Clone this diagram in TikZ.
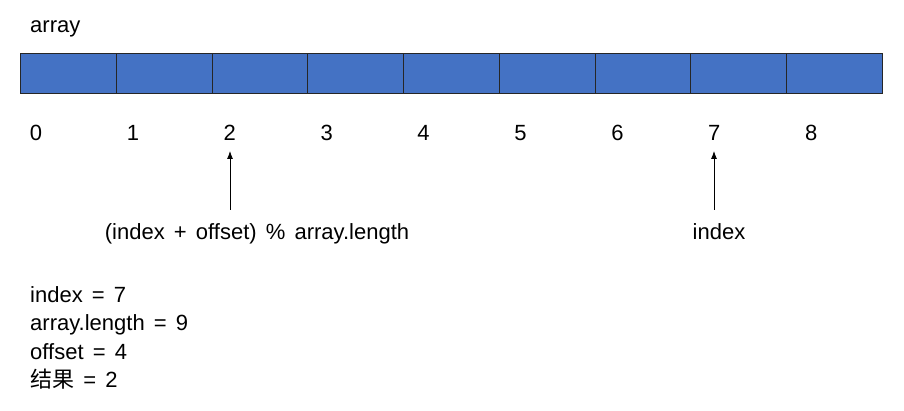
\documentclass[tikz,border=0pt]{standalone}
\usepackage{fontspec}
\usetikzlibrary{arrows.meta}
\setmainfont[WordSpace=1.5]{Liberation Sans}
\newfontfamily\cjkfont{Noto Sans CJK SC}
\begin{document}
\begin{tikzpicture}[x=1pt,y=-1pt,
  cell/.style={draw=black!85, fill={rgb,255:red,68;green,114;blue,196}, line width=0.9pt, minimum width=95.8pt, minimum height=40pt, inner sep=0pt, anchor=north west},
  lbl/.style={font=\fontsize{22}{28}\selectfont, inner sep=0pt, anchor=base},
  arr/.style={-{Latex[length=8pt,width=6pt]}, line width=0.8pt}]
\useasboundingbox (0,0) rectangle (904,411);
\node[lbl, anchor=base west] (title) at (30,33) {array};
\foreach \i in {0,...,8} {
  \node[cell] (c\i) at ({20+95.78*\i},53) {};
  \node[lbl] (n\i) at ({36+96.9*\i},141) {\i};
}
\node[lbl] (expr) at (257,240) {(index + offset) \% array.length};
\node[lbl] (idx) at (719,240) {index};
\coordinate (a2s) at (230,210);
\coordinate (a2e) at (230,151);
\coordinate (a7s) at (714,210);
\coordinate (a7e) at (714,151);
\draw[arr] (a2s) -- (a2e);
\draw[arr] (a7s) -- (a7e);
\node[lbl, anchor=base west] (l1) at (30,302) {index = 7};
\node[lbl, anchor=base west] (l2) at (30,330.5) {array.length = 9};
\node[lbl, anchor=base west] (l3) at (30,359) {offset = 4};
\node[lbl, anchor=base west] (l4) at (30,387) {{\cjkfont 结果} = 2};
\end{tikzpicture}
\end{document}
